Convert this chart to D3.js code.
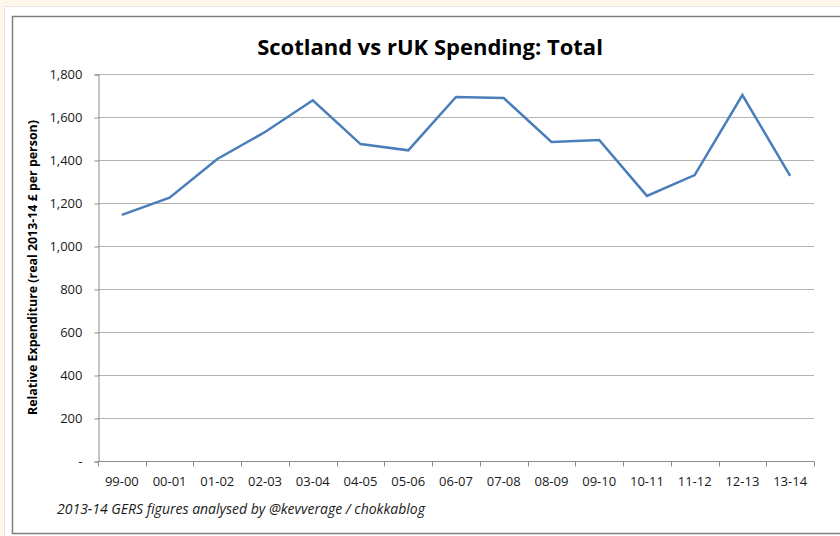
<!DOCTYPE html>
<html>
<head>
<meta charset="utf-8">
<script src="https://cdn.jsdelivr.net/npm/d3@7"></script>
<style>
  html, body { margin: 0; padding: 0; background: #fdf6ea; }
  svg { display: block; }
  text { font-family: "Open Sans", "Noto Sans", sans-serif; }
</style>
</head>
<body>
<script>
'use strict';

// financial years, Scotland minus rest of UK per head
var years = ['99-00', '00-01', '01-02', '02-03', '03-04', '04-05', '05-06',
  '06-07', '07-08', '08-09', '09-10', '10-11', '11-12', '12-13', '13-14'];
var spending = [1145, 1225, 1405, 1530, 1678, 1474, 1445,
  1693, 1688, 1484, 1493, 1233, 1330, 1702, 1326];
var yTicks = [0, 200, 400, 600, 800, 1000, 1200, 1400, 1600, 1800];

var W = 840, H = 536;
var plot = { left: 98, right: 814, top: 74, bottom: 461 };

var svg = d3.select('body').append('svg')
  .attr('width', W)
  .attr('height', H);

// outer white sheet and chart frame
svg.append('rect')
  .attr('x', 4.5).attr('y', 6.5)
  .attr('width', W).attr('height', H)
  .attr('fill', '#ffffff')
  .attr('stroke', '#e6e6e6');
svg.append('rect')
  .attr('x', 12.5).attr('y', 16.5)
  .attr('width', W).attr('height', 517)
  .attr('fill', '#ffffff')
  .attr('stroke', '#7f7f7f')
  .attr('stroke-width', 1.5);

var x = d3.scaleBand()
  .domain(years)
  .range([plot.left, plot.right]);

var y = d3.scaleLinear()
  .domain([0, 1800])
  .range([plot.bottom, plot.top]);

// gridlines
svg.append('g')
  .selectAll('line')
  .data(yTicks.slice(1))
  .join('line')
  .attr('x1', plot.left).attr('x2', plot.right)
  .attr('y1', function(d) { return Math.round(y(d)) + 0.5; })
  .attr('y2', function(d) { return Math.round(y(d)) + 0.5; })
  .attr('stroke', '#b3b3b3')
  .attr('stroke-width', 1);

// y axis
var yAxis = d3.axisLeft(y)
  .tickValues(yTicks)
  .tickSize(4)
  .tickPadding(12)
  .tickFormat(function(d) { return d === 0 ? '-' : d3.format(',')(d); });

var yg = svg.append('g')
  .attr('transform', 'translate(' + (plot.left + 0.5) + ',0.5)')
  .call(yAxis);
yg.select('.domain').attr('stroke', '#8c8c8c');
yg.selectAll('.tick line').attr('stroke', '#8c8c8c');
yg.selectAll('.tick text')
  .attr('font-size', 13)
  .attr('fill', '#1a1a1a')
  .style('font-family', '"Open Sans", sans-serif');

// x axis: ticks sit on category boundaries
var xg = svg.append('g')
  .attr('transform', 'translate(0,' + (plot.bottom + 0.5) + ')');
xg.append('line')
  .attr('x1', plot.left).attr('x2', plot.right)
  .attr('stroke', '#8c8c8c');
var bounds = years.map(function(d) { return x(d); }).concat([plot.right]);
xg.selectAll('line.tk')
  .data(bounds)
  .join('line')
  .attr('class', 'tk')
  .attr('x1', function(d) { return Math.round(d) + 0.5; })
  .attr('x2', function(d) { return Math.round(d) + 0.5; })
  .attr('y1', 0).attr('y2', 5)
  .attr('stroke', '#8c8c8c');
xg.selectAll('text')
  .data(years)
  .join('text')
  .attr('x', function(d) { return x(d) + x.bandwidth() / 2; })
  .attr('y', 24)
  .attr('text-anchor', 'middle')
  .attr('font-size', 13)
  .attr('fill', '#1a1a1a')
  .text(function(d) { return d; });

// series line
var line = d3.line()
  .x(function(d, i) { return x(years[i]) + x.bandwidth() / 2; })
  .y(function(d) { return y(d); });

svg.append('path')
  .datum(spending)
  .attr('d', line)
  .attr('fill', 'none')
  .attr('stroke', '#4a7ebb')
  .attr('stroke-width', 2.5)
  .attr('stroke-linejoin', 'miter');

// titles
svg.append('text')
  .attr('x', 430)
  .attr('y', 55)
  .attr('text-anchor', 'middle')
  .attr('font-size', 22)
  .attr('font-weight', 'bold')
  .attr('fill', '#000')
  .text('Scotland vs rUK Spending: Total');

svg.append('text')
  .attr('transform', 'translate(37,' + ((plot.top + plot.bottom) / 2) + ') rotate(-90)')
  .attr('text-anchor', 'middle')
  .attr('font-size', 12.4)
  .attr('font-weight', 'bold')
  .attr('fill', '#000')
  .text('Relative Expenditure (real 2013-14 \u00a3 per person)');

svg.append('text')
  .attr('x', 57)
  .attr('y', 514)
  .attr('font-size', 14)
  .attr('font-style', 'italic')
  .attr('fill', '#1a1a1a')
  .text('2013-14 GERS figures analysed by @kevverage / chokkablog');
</script>
</body>
</html>
